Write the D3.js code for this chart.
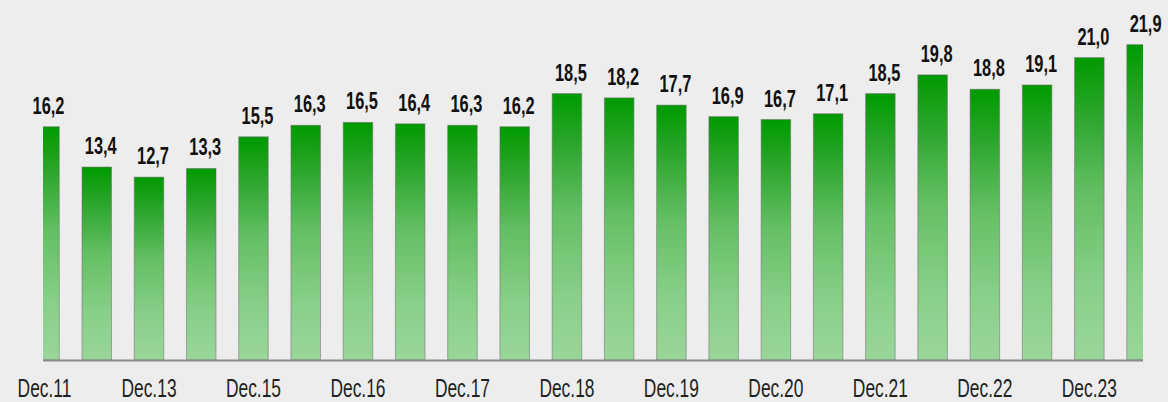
<!DOCTYPE html>
<html>
<head>
<meta charset="utf-8">
<script src="https://cdn.jsdelivr.net/npm/d3@7"></script>
<style>
    html, body { margin: 0; padding: 0; background: #ededed; }
    svg { display: block; font-family: "Liberation Sans", Arial, sans-serif; }
</style>
</head>
<body>
<div id="chart"></div>
<script>
// Bar values, one per half-year period (the source shows only every other label)
const values = [16.2, 13.4, 12.7, 13.3, 15.5, 16.3, 16.5, 16.4, 16.3, 16.2, 18.5,
                18.2, 17.7, 16.9, 16.7, 17.1, 18.5, 19.8, 18.8, 19.1, 21.0, 21.9];
const tickLabels = ["Dec.11", "", "Dec.13", "", "Dec.15", "", "Dec.16", "", "Dec.17", "", "Dec.18",
                    "", "Dec.19", "", "Dec.20", "", "Dec.21", "", "Dec.22", "", "Dec.23", ""];
const yDomain = [0, 25];

const width = 1168, height = 402;
const plotLeft = 43, plotRight = 1143, plotBottom = 360;

const svg = d3.select("#chart").append("svg")
    .attr("width", width)
    .attr("height", height);

const defs = svg.append("defs");
const grad = defs.append("linearGradient")
    .attr("id", "barGrad")
    .attr("x1", 0).attr("y1", 0).attr("x2", 0).attr("y2", 1);
[["0%", "#009a00"], ["20%", "#2ea62e"], ["45%", "#64bf64"], ["75%", "#88cf88"], ["100%", "#9ad69a"]]
    .forEach(s => grad.append("stop").attr("offset", s[0]).attr("stop-color", s[1]));

defs.append("clipPath").attr("id", "plotClip")
    .append("rect")
    .attr("x", plotLeft).attr("y", 0)
    .attr("width", plotRight - plotLeft).attr("height", plotBottom);

// band scale reaches past the plot edges, first and last bars get cut in half
const x = d3.scaleBand()
    .domain(d3.range(values.length))
    .range([18.4, 1167.7])
    .paddingInner(0.435)
    .paddingOuter(0.2175);

const y = d3.scaleLinear()
    .domain(yDomain)
    .range([plotBottom, 0]);

svg.append("g")
    .attr("clip-path", "url(#plotClip)")
    .selectAll("rect")
    .data(values)
    .join("rect")
    .attr("x", (d, i) => x(i))
    .attr("y", d => y(d))
    .attr("width", x.bandwidth())
    .attr("height", d => y(0) - y(d))
    .attr("fill", "url(#barGrad)")
    .attr("stroke", "rgba(110,110,110,0.55)")
    .attr("stroke-width", 1);

// value labels
svg.append("g")
    .selectAll("text")
    .data(values)
    .join("text")
    .attr("transform", (d, i) => `translate(${x(i) + x.bandwidth() / 2 + 4},${y(d) - 13}) scale(0.82,1.17)`)
    .attr("text-anchor", "middle")
    .attr("font-size", 20)
    .attr("font-weight", "bold")
    .attr("fill", "#111")
    .text(d => d.toFixed(1).replace(".", ","));

// x axis
const xAxis = svg.append("g")
    .attr("transform", `translate(0,${plotBottom})`)
    .call(d3.axisBottom(x).tickSize(0).tickFormat(i => tickLabels[i]));
xAxis.select(".domain").remove();
xAxis.selectAll("text")
    .attr("y", 0)
    .attr("dy", 0)
    .attr("transform", "translate(0,37) scale(0.87,1.3)")
    .attr("font-size", 20)
    .attr("font-family", "\"Liberation Sans\", Arial, sans-serif")
    .attr("fill", "#222");

svg.append("line")
    .attr("x1", plotLeft).attr("x2", plotRight)
    .attr("y1", plotBottom + 0.5).attr("y2", plotBottom + 0.5)
    .attr("stroke", "#8a8a8a")
    .attr("stroke-width", 2);
</script>
</body>
</html>
